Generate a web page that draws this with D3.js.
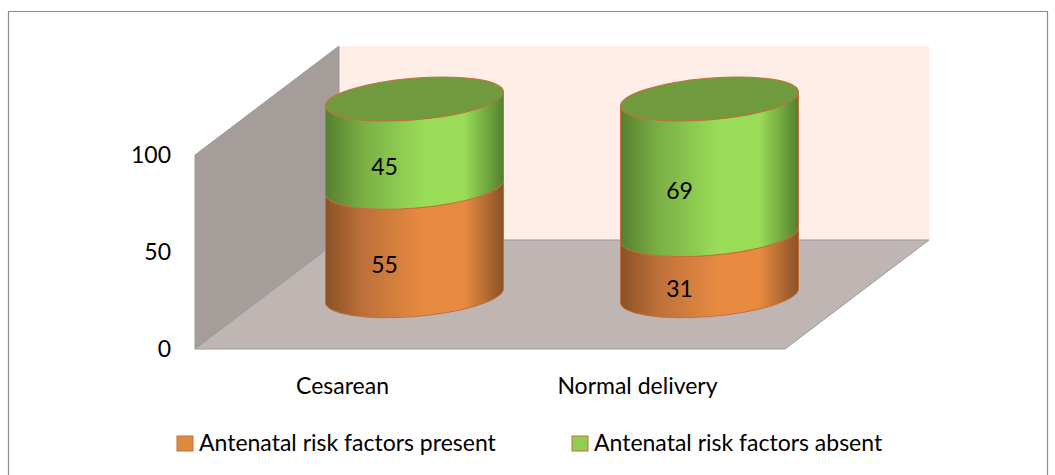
<!DOCTYPE html>
<html>
<head>
<meta charset="utf-8">
<script src="https://cdn.jsdelivr.net/npm/d3@7"></script>
<style>
  html, body { margin: 0; padding: 0; background: #fff; }
  svg { display: block; }
  text { font-family: Lato, "Open Sans", sans-serif; fill: #000; }
</style>
</head>
<body>
<script>
const width = 1055
const height = 475

const categories = ["Cesarean", "Normal delivery"]
const present = [55, 31]
const absent = [45, 69]
const yTicks = [0, 50, 100]
const seriesNames = ["Antenatal risk factors present", "Antenatal risk factors absent"]

const svg = d3.select("body").append("svg")
    .attr("width", width)
    .attr("height", height);

// Chart frame
svg.append("path")
    .attr("d", "M8.5,475V11.5H1047.5V475")
    .attr("fill", "none")
    .attr("stroke", "#8c8c8c")
    .attr("stroke-width", 1.2);

// Scales: front edge of the floor plus a fixed depth offset
const depth = [144, -109]
const x = d3.scaleBand().domain(categories).range([195, 785])
const y = d3.scaleLinear().domain([0, 100]).range([349, 155])
// cylinders stand a little inside the floor so have their own height scale
const yBar = d3.scaleLinear().domain([0, 100]).range([296, 99])

const x0 = x.range()[0], x1 = x.range()[1]
const y0 = y(0), yTop = y(100)

// Walls and floor
svg.append("rect")
    .attr("x", x0 + depth[0]).attr("y", yTop + depth[1])
    .attr("width", x1 - x0).attr("height", y0 - yTop)
    .attr("fill", "#feeee7");
svg.append("polygon")
    .attr("points", [[x0, yTop], [x0 + depth[0], yTop + depth[1]], [x0 + depth[0], y0 + depth[1]], [x0, y0]].join(" "))
    .attr("fill", "#a59d99")
    .attr("stroke", "#9a9a9a");
svg.append("polygon")
    .attr("points", [[x0, y0], [x0 + depth[0], y0 + depth[1]], [x1 + depth[0], y0 + depth[1]], [x1, y0]].join(" "))
    .attr("fill", "#bfb5b2")
    .attr("stroke", "#9a9a9a");

// Horizontal shading of the cylinder sides
const defs = svg.append("defs");
function sideGradient(id, dark, mid, light) {
    const g = defs.append("linearGradient").attr("id", id);
    g.append("stop").attr("offset", "0%").attr("stop-color", dark);
    g.append("stop").attr("offset", "22%").attr("stop-color", mid);
    g.append("stop").attr("offset", "55%").attr("stop-color", light);
    g.append("stop").attr("offset", "78%").attr("stop-color", light);
    g.append("stop").attr("offset", "100%").attr("stop-color", dark);
}
sideGradient("sideOrange", "#8a5226", "#bf713a", "#e88b41");
sideGradient("sideGreen", "#55802f", "#7cb047", "#99dc57");

// Ellipse of the cylinder: half width 89, half height 22, tilted
const rx = 89.3, ry = 20.8, tilt = -4.75, edgeDy = 7, halfW = 89

function sidePath(cx, yLow, yHigh) {
    const r = `${rx},${ry} ${tilt}`
    return `M${cx - halfW},${yLow + edgeDy}` +
        `A${r} 0 0 ${cx + halfW},${yLow - edgeDy}` +
        `L${cx + halfW},${yHigh - edgeDy}` +
        `A${r} 0 1 ${cx - halfW},${yHigh + edgeDy}Z`
}

const stroke = "#c4703a"
const barX = c => x(c) + x.bandwidth() / 2 + depth[0] / 2

const bars = svg.selectAll("g.bar")
    .data(categories)
    .enter()
    .append("g")
    .attr("class", "bar");

bars.append("path")
    .attr("d", (c, i) => sidePath(barX(c), yBar(0), yBar(present[i])))
    .attr("fill", "url(#sideOrange)")
    .attr("stroke", stroke);

bars.append("path")
    .attr("d", (c, i) => sidePath(barX(c), yBar(present[i]), yBar(present[i] + absent[i])))
    .attr("fill", "url(#sideGreen)")
    .attr("stroke", stroke);

bars.append("ellipse")
    .attr("rx", rx)
    .attr("ry", ry)
    .attr("transform", (c, i) => `translate(${barX(c)},${yBar(present[i] + absent[i])}) rotate(${tilt})`)
    .attr("fill", "#6f9a3d")
    .attr("stroke", stroke);

// Data labels
bars.append("text")
    .attr("x", c => barX(c) - 30)
    .attr("y", (c, i) => yBar(present[i] / 2) + 23)
    .attr("dy", "0.35em")
    .attr("text-anchor", "middle")
    .attr("font-size", 23)
    .text((c, i) => present[i]);

bars.append("text")
    .attr("x", c => barX(c) - 30)
    .attr("y", (c, i) => yBar(present[i] + absent[i] / 2) + 24)
    .attr("dy", "0.35em")
    .attr("text-anchor", "middle")
    .attr("font-size", 23)
    .text((c, i) => absent[i]);

// Value axis labels
svg.selectAll("text.ytick")
    .data(yTicks)
    .enter()
    .append("text")
    .attr("class", "ytick")
    .attr("x", 171)
    .attr("y", d => y(d))
    .attr("dy", "0.35em")
    .attr("text-anchor", "end")
    .attr("font-size", 23)
    .text(d => d);

// Category labels
svg.selectAll("text.xtick")
    .data(categories)
    .enter()
    .append("text")
    .attr("class", "xtick")
    .attr("x", c => x(c) + x.bandwidth() / 2)
    .attr("y", 386)
    .attr("dy", "0.35em")
    .attr("text-anchor", "middle")
    .attr("font-size", 23)
    .text(c => c);

// Legend
const legendX = [177, 572]
const legendFill = ["#e08a40", "#8fce50"]
const legend = svg.selectAll("g.legend")
    .data(seriesNames)
    .enter()
    .append("g")
    .attr("class", "legend")
    .attr("transform", (d, i) => `translate(${legendX[i]},436)`);

legend.append("rect")
    .attr("width", 16)
    .attr("height", 15)
    .attr("fill", (d, i) => legendFill[i])
    .attr("stroke", stroke);

legend.append("text")
    .attr("x", 22)
    .attr("y", 7)
    .attr("dy", "0.35em")
    .attr("font-size", 23)
    .text(d => d);
</script>
</body>
</html>
